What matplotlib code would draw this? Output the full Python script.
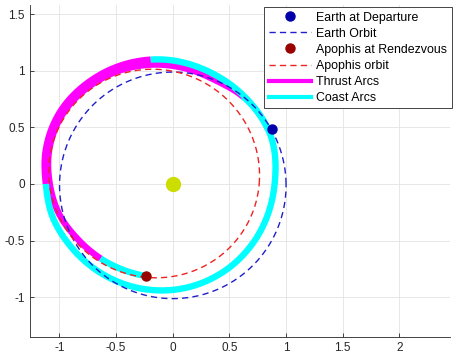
import numpy as np
import matplotlib.pyplot as plt
from matplotlib.lines import Line2D
from matplotlib.ticker import FormatStrFormatter

plt.rcParams['font.family'] = ['Liberation Sans', 'DejaVu Sans']
plt.rcParams['axes.unicode_minus'] = False

# orbit elements (AU, deg)
earth_a, earth_e, earth_w = 1.0, 0.012, 95.0
apophis_a, apophis_e, apophis_w = 0.935, 0.201, -29.5

earth_dep = (0.873, 0.489)
apophis_rdv = (-0.236, -0.812)
sun_pos = (0.0, 0.0)

# transfer trajectory nodes: unwrapped polar angle (deg) and radius (AU)
traj_theta = [29.4, 45, 67, 100, 125, 150, 165, 180, 195, 210, 238, 270, 300,
              323, 360, 389.4, 411, 427, 445, 460, 485, 510, 525, 540, 554,
              570, 586, 600, 613.8]
traj_r = [0.97, 0.99, 1.03, 1.115, 1.16, 1.18, 1.16, 1.12, 1.10, 1.06, 0.995,
          0.935, 0.895, 0.88, 0.90, 0.97, 0.99, 0.99, 1.03, 1.07, 1.125,
          1.15, 1.13, 1.085, 1.04, 0.97, 0.915, 0.875, 0.845]

# thrust windows (unwrapped deg); everything else is coast
thrust_windows = [(100, 180), (411, 586)]
coast_windows = [(29.4, 100), (180, 411), (586, 613.8)]


def conic(a, e, w, n=721):
    th = np.linspace(0, 2 * np.pi, n)
    r = a * (1 - e ** 2) / (1 + e * np.cos(th - np.radians(w)))
    return r * np.cos(th), r * np.sin(th)


def smooth_r(th):
    # cubic hermite through the read nodes so the thick arcs have no kinks
    xs = np.asarray(traj_theta, float)
    ys = np.asarray(traj_r, float)
    m = np.gradient(ys, xs)
    i = np.clip(np.searchsorted(xs, th) - 1, 0, len(xs) - 2)
    h = xs[i + 1] - xs[i]
    t = (th - xs[i]) / h
    h00 = 2 * t ** 3 - 3 * t ** 2 + 1
    h10 = t ** 3 - 2 * t ** 2 + t
    h01 = -2 * t ** 3 + 3 * t ** 2
    h11 = t ** 3 - t ** 2
    return h00 * ys[i] + h10 * h * m[i] + h01 * ys[i + 1] + h11 * h * m[i + 1]


def arc(t0, t1, n=400):
    th = np.linspace(t0, t1, n)
    r = smooth_r(th)
    return r * np.cos(np.radians(th)), r * np.sin(np.radians(th))


fig = plt.figure(figsize=(4.54, 3.6), dpi=100)
ax = fig.add_axes([29.5 / 454, 23.3 / 360, 420.5 / 454, 331.7 / 360])

thrust_col = '#ff00ff'
coast_col = '#00ffff'
lw_arc = 4.6

for t0, t1 in thrust_windows:
    x, y = arc(t0, t1)
    ax.plot(x, y, color=thrust_col, lw=lw_arc, solid_capstyle='butt')
for t0, t1 in coast_windows:
    x, y = arc(t0, t1)
    ax.plot(x, y, color=coast_col, lw=lw_arc, solid_capstyle='butt')

ex, ey = conic(earth_a, earth_e, earth_w)
ax.plot(ex, ey, color='#1f1fcc', lw=1.0, dashes=(4.5, 3))
px, py = conic(apophis_a, apophis_e, apophis_w)
ax.plot(px, py, color='#ee2222', lw=1.0, dashes=(4.5, 3))

ax.plot(*earth_dep, 'o', color='#0000aa', ms=6.5, mec='#0000aa')
ax.plot(*apophis_rdv, 'o', color='#990000', ms=6.5, mec='#990000')
ax.plot(*sun_pos, 'o', color='#ccdd00', ms=10, mec='#ccdd00')

ax.set_xlim(-1.264, 2.448)
ax.set_ylim(-1.348, 1.58)
ax.set_xticks([-1, -0.5, 0, 0.5, 1, 1.5, 2])
ax.set_yticks([-1, -0.5, 0, 0.5, 1, 1.5])
ax.xaxis.set_major_formatter(FormatStrFormatter('%g'))
ax.yaxis.set_major_formatter(FormatStrFormatter('%g'))
ax.grid(True, color='#e3e3e3', lw=0.6)
ax.set_axisbelow(True)
for s in ['top', 'right']:
    ax.spines[s].set_visible(False)
for s in ['left', 'bottom']:
    ax.spines[s].set_color('#262626')
    ax.spines[s].set_linewidth(0.6)
ax.tick_params(direction='in', length=3, width=0.6, colors='#262626',
               labelsize=8.5, labelcolor='#262626')

handles = [
    Line2D([], [], ls='none', marker='o', color='#0000aa', ms=6.5),
    Line2D([], [], color='#1f1fcc', lw=1.0, dashes=(4.5, 3)),
    Line2D([], [], ls='none', marker='o', color='#990000', ms=6.5),
    Line2D([], [], color='#ee2222', lw=1.0, dashes=(4.5, 3)),
    Line2D([], [], color=thrust_col, lw=3),
    Line2D([], [], color=coast_col, lw=3),
]
labels = ['Earth at Departure', 'Earth Orbit', 'Apophis at Rendezvous',
          'Apophis orbit', 'Thrust Arcs', 'Coast Arcs']
leg = fig.legend(handles, labels, loc='upper right',
                 bbox_to_anchor=(451.5 / 454, 1 - 7.3 / 360),
                 fontsize=8.9, frameon=True, fancybox=False, framealpha=1,
                 edgecolor='#262626', handlelength=3.4, handletextpad=0.45,
                 borderpad=0.35, labelspacing=0.33, borderaxespad=0,
                 numpoints=1)
leg.get_frame().set_linewidth(0.6)

fig.savefig('out.png', dpi=100)
